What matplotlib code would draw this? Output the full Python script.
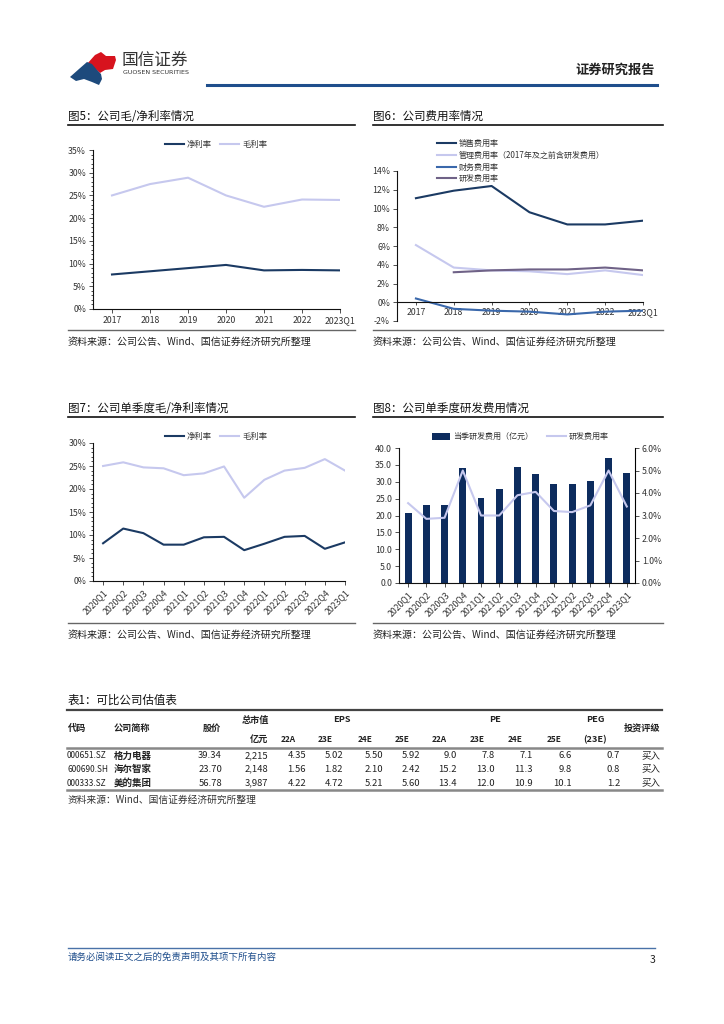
import matplotlib
matplotlib.use("Agg")
import matplotlib.pyplot as plt
from matplotlib.lines import Line2D
from matplotlib.patches import Polygon, Rectangle
from matplotlib.ticker import FuncFormatter, MultipleLocator

plt.rcParams['font.family'] = ['Noto Sans CJK SC', 'DejaVu Sans']
plt.rcParams['axes.unicode_minus'] = False

W, H = 724, 1024

# ---- data ----
years = ['2017', '2018', '2019', '2020', '2021', '2022', '2023Q1']
net_margin = [7.6, 8.3, 9.0, 9.7, 8.5, 8.6, 8.5]
gross_margin = [25.0, 27.5, 28.9, 25.0, 22.5, 24.1, 24.0]

sales_rate = [11.1, 11.9, 12.4, 9.6, 8.3, 8.3, 8.7]
admin_rate = [6.1, 3.7, 3.4, 3.3, 3.0, 3.4, 2.9]
fin_rate = [0.4, -0.7, -0.9, -1.0, -1.3, -1.0, -0.9]
rd_rate_y = [None, 3.2, 3.4, 3.5, 3.5, 3.7, 3.4]

quarters = ['2020Q1', '2020Q2', '2020Q3', '2020Q4', '2021Q1', '2021Q2', '2021Q3',
            '2021Q4', '2022Q1', '2022Q2', '2022Q3', '2022Q4', '2023Q1']
q_net = [8.2, 11.4, 10.4, 7.9, 7.9, 9.5, 9.6, 6.7, 8.1, 9.6, 9.8, 7.0, 8.4]
q_gross = [25.0, 25.8, 24.7, 24.5, 23.0, 23.4, 24.9, 18.1, 22.0, 24.0, 24.6, 26.5, 24.0]

q_rd = [20.7, 23.1, 23.0, 34.0, 25.1, 27.8, 34.3, 32.3, 29.2, 29.2, 30.3, 36.9, 32.7]
q_rd_rate = [3.55, 2.85, 2.9, 5.0, 3.0, 3.0, 3.9, 4.05, 3.2, 3.15, 3.45, 5.0, 3.4]

tbl_codes = ['000651.SZ', '600690.SH', '000333.SZ']
tbl_names = ['格力电器', '海尔智家', '美的集团']
tbl_price = ['39.34', '23.70', '56.78']
tbl_mcap = ['2,215', '2,148', '3,987']
tbl_eps = [['4.35', '5.02', '5.50', '5.92'],
           ['1.56', '1.82', '2.10', '2.42'],
           ['4.22', '4.72', '5.21', '5.60']]
tbl_pe = [['9.0', '7.8', '7.1', '6.6'],
          ['15.2', '13.0', '11.3', '9.8'],
          ['13.4', '12.0', '10.9', '10.1']]
tbl_peg = ['0.7', '0.8', '1.2']
tbl_rating = ['买入', '买入', '买入']
periods = ['22A', '23E', '24E', '25E']

NAVY = '#1b3a63'
LAV = '#c6c8ee'
TXT = '#222222'

fig = plt.figure(figsize=(W / 100, H / 100), dpi=100)


def fx(x):
    return x / W


def fy(y):
    return 1 - y / H


def text(x, y, s, **kw):
    kw.setdefault('va', 'center')
    kw.setdefault('color', TXT)
    fig.text(fx(x), fy(y), s, **kw)


def hline(x0, x1, y, **kw):
    fig.add_artist(Line2D([fx(x0), fx(x1)], [fy(y), fy(y)], transform=fig.transFigure, **kw))


def make_ax(l, t, r, b):
    return fig.add_axes([fx(l), fy(b), (r - l) / W, (b - t) / H])


def style(ax, size=6.3):
    for s in ['top', 'right']:
        ax.spines[s].set_visible(False)
    for s in ['left', 'bottom']:
        ax.spines[s].set_linewidth(0.8)
        ax.spines[s].set_color('#111111')
    ax.tick_params(labelsize=size, colors='#333333', length=3, width=0.6, pad=2)
    ax.set_facecolor('none')


def leg_line(x0, y, color, label, lw=1.5, size=6):
    hline(x0, x0 + 19, y, color=color, lw=lw)
    text(x0 + 22, y, label, fontsize=size, color='#333333')


# ---- header ----
fig.add_artist(Polygon([[fx(p[0]), fy(p[1])] for p in
                        [(87, 64), (95, 55), (101, 52), (106, 56), (115, 56), (116, 60),
                         (113, 69), (105, 70), (100, 73), (94, 68)]],
                       closed=True, transform=fig.transFigure, color='#d7131e', lw=0))
fig.add_artist(Polygon([[fx(p[0]), fy(p[1])] for p in
                        [(70, 77), (79, 69), (87, 62), (92, 64), (97, 70), (101, 74),
                         (102, 79), (99, 85), (92, 82), (84, 79), (76, 81)]],
                       closed=True, transform=fig.transFigure, color='#1d4a7c', lw=0))
text(122, 60, '国信证券', fontsize=12, color='#333333')
text(123, 72, 'GUOSEN SECURITIES', fontsize=4.6, color='#333333', family='DejaVu Sans')
text(655, 70, '证券研究报告', fontsize=9.5, ha='right', color='#222222', weight='bold')
hline(207, 657, 85, color='#1f4e8c', lw=2.2)

# ---- section titles and rules ----
for (x0, x1, ty, lt, sy, st, title) in [
        (68, 355, 116, 125, 330, 342, '图5：公司毛/净利率情况'),
        (373, 663, 116, 125, 330, 342, '图6：公司费用率情况'),
        (68, 355, 408, 417, 623, 635, '图7：公司单季度毛/净利率情况'),
        (373, 663, 408, 417, 623, 635, '图8：公司单季度研发费用情况')]:
    text(x0, ty, title, fontsize=8.3, color='#111111')
    hline(x0, x1, lt, color='#111111', lw=1.2)
    hline(x0, x1, sy, color='#666666', lw=1.0)
    text(x0, st, '资料来源：公司公告、Wind、国信证券经济研究所整理', fontsize=7.2, color='#222222')

pct = FuncFormatter(lambda v, p: '%d%%' % round(v))

# ---- Fig 5 ----
ax5 = make_ax(93, 150, 340, 309)
style(ax5)
ax5.plot(range(len(years)), net_margin, color=NAVY, lw=1.5)
ax5.plot(range(len(years)), gross_margin, color=LAV, lw=1.5)
ax5.set_xlim(-0.5, 6)
ax5.set_ylim(0, 35)
ax5.yaxis.set_major_locator(MultipleLocator(5))
ax5.yaxis.set_minor_locator(MultipleLocator(1))
ax5.tick_params(axis='y', which='minor', length=1.5, width=0.5)
ax5.yaxis.set_major_formatter(pct)
ax5.set_xticks(range(len(years)))
ax5.set_xticklabels(years)
leg_line(165, 144, NAVY, '净利率')
leg_line(220, 144, LAV, '毛利率')

# ---- Fig 6 ----
ax6 = make_ax(397, 171, 643, 321)
style(ax6)
x6 = range(len(years))
ax6.plot(x6, sales_rate, color=NAVY, lw=1.5)
ax6.plot(x6, admin_rate, color=LAV, lw=1.5)
ax6.plot(x6, fin_rate, color='#3a68ab', lw=1.5)
ax6.plot(list(x6)[1:], rd_rate_y[1:], color='#6f6287', lw=1.5)
ax6.set_xlim(-0.5, 6)
ax6.set_ylim(-2, 14)
ax6.spines['bottom'].set_position(('data', 0))
ax6.yaxis.set_major_locator(MultipleLocator(2))
ax6.yaxis.set_major_formatter(pct)
ax6.set_xticks(range(len(years)))
ax6.set_xticklabels(years)
ax6.tick_params(axis='x', length=2)
leg_line(437, 143, NAVY, '销售费用率', size=5.8)
leg_line(437, 155, LAV, '管理费用率（2017年及之前含研发费用）', size=5.8)
leg_line(437, 167, '#3a68ab', '财务费用率', size=5.8)
leg_line(437, 178, '#6f6287', '研发费用率', size=5.8)

# ---- Fig 7 ----
ax7 = make_ax(93, 443, 345, 581)
style(ax7)
x7 = range(len(quarters))
ax7.plot(x7, q_net, color=NAVY, lw=1.5)
ax7.plot(x7, q_gross, color=LAV, lw=1.5)
ax7.set_xlim(-0.5, 12)
ax7.set_ylim(0, 30)
ax7.yaxis.set_major_locator(MultipleLocator(5))
ax7.yaxis.set_minor_locator(MultipleLocator(1))
ax7.tick_params(axis='y', which='minor', length=1.5, width=0.5)
ax7.yaxis.set_major_formatter(pct)
ax7.set_xticks(list(x7))
ax7.set_xticklabels(quarters, rotation=45, ha='right', rotation_mode='anchor')
leg_line(165, 436, NAVY, '净利率')
leg_line(220, 436, LAV, '毛利率')

# ---- Fig 8 ----
ax8 = make_ax(399, 448, 635, 583)
style(ax8)
x8 = list(range(len(quarters)))
ax8.bar(x8, q_rd, width=0.38, color='#0d2c5e')
ax8.set_xlim(-0.5, 12.45)
ax8.set_ylim(0, 40)
ax8.yaxis.set_major_locator(MultipleLocator(5))
ax8.yaxis.set_major_formatter(FuncFormatter(lambda v, p: '%.1f' % v))
ax8.set_xticks(x8)
ax8.set_xticklabels(quarters, rotation=45, ha='right', rotation_mode='anchor')
ax8b = ax8.twinx()
ax8b.plot(x8, q_rd_rate, color=LAV, lw=1.5)
ax8b.set_ylim(0, 6)
ax8b.yaxis.set_major_locator(MultipleLocator(1))
ax8b.yaxis.set_major_formatter(FuncFormatter(lambda v, p: '%.1f%%' % v))
for s in ['top', 'left', 'bottom']:
    ax8b.spines[s].set_visible(False)
ax8b.spines['right'].set_linewidth(0.8)
ax8b.tick_params(labelsize=6.3, colors='#333333', length=3, width=0.6, pad=2)
fig.add_artist(Rectangle((fx(432), fy(440)), 18 / W, 7 / H, transform=fig.transFigure,
                         color='#0d2c5e', lw=0))
text(453, 436, '当季研发费用（亿元）', fontsize=5.8, color='#333333')
leg_line(547, 436, LAV, '研发费用率', size=5.8)

# ---- Table ----
text(68, 700, '表1：可比公司估值表', fontsize=8.3, color='#111111')
hline(67, 662, 710, color='#444444', lw=1.6)
hline(67, 662, 748, color='#888888', lw=1.8)
hline(67, 662, 790, color='#888888', lw=1.8)
hb = dict(fontsize=6.6, weight='bold', color='#222222')
text(68, 728, '代码', **hb)
text(132, 728, '公司简称', ha='center', **hb)
text(212, 728, '股价', ha='center', **hb)
text(255, 720, '总市值', ha='center', **hb)
text(268, 739, '亿元', ha='right', **hb)
text(342, 720, 'EPS', ha='center', **hb)
text(495, 720, 'PE', ha='center', **hb)
text(595, 720, 'PEG', ha='center', **hb)
text(595, 740, '(23E)', ha='center', **hb)
text(642, 728, '投资评级', ha='center', **hb)
eps_r = [306, 343, 383, 420]
pe_r = [457, 495, 533, 572]
for j, p in enumerate(periods):
    text(eps_r[j] - 25, 740, p, fontsize=6.0, weight='bold')
    text(pe_r[j] - 25, 740, p, fontsize=6.0, weight='bold')
row_y = [756, 769, 783]
rf = dict(fontsize=6.8, color='#222222')
for i in range(3):
    y = row_y[i]
    text(67, y, tbl_codes[i], fontsize=6.0, color='#222222')
    text(114, y, tbl_names[i], weight='bold', **rf)
    text(222, y, tbl_price[i], ha='right', **rf)
    text(268, y, tbl_mcap[i], ha='right', **rf)
    for j in range(4):
        text(eps_r[j], y, tbl_eps[i][j], ha='right', **rf)
        text(pe_r[j], y, tbl_pe[i][j], ha='right', **rf)
    text(620, y, tbl_peg[i], ha='right', **rf)
    text(660, y, tbl_rating[i], ha='right', **rf)
text(68, 800, '资料来源：Wind、国信证券经济研究所整理', fontsize=7.0, color='#333333')

# ---- footer ----
hline(68, 655, 948, color='#4a72a8', lw=1.0)
text(68, 957, '请务必阅读正文之后的免责声明及其项下所有内容', fontsize=6.8, color='#1f4e8c')
text(655, 960, '3', fontsize=7.5, ha='right', color='#222222')

fig.savefig('out.png', dpi=100)
